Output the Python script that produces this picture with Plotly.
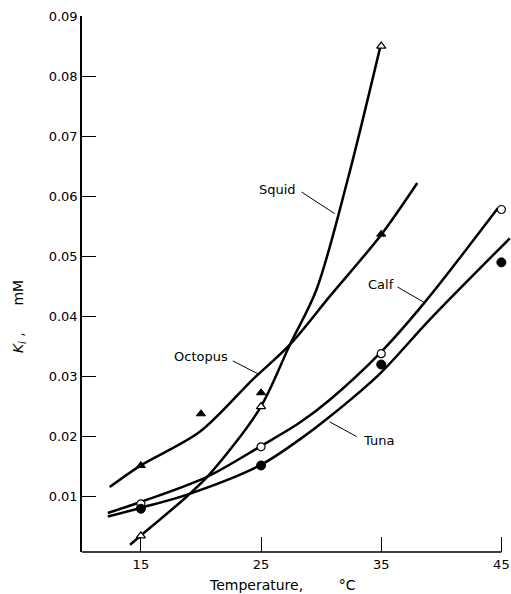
import plotly.graph_objects as go

# Measured data points
squid_x = [15, 25, 35]
squid_y = [0.0035, 0.025, 0.085]
octopus_x = [15, 20, 25, 35]
octopus_y = [0.0152, 0.0238, 0.0273, 0.0537]
calf_x = [15, 25, 35, 45]
calf_y = [0.0088, 0.0183, 0.0338, 0.0578]
tuna_x = [15, 25, 35, 45]
tuna_y = [0.008, 0.0152, 0.032, 0.049]

# Fitted curves
squid_cx = [14.1, 15.1, 18.8, 20.75, 24.9, 27.4, 29.6, 32.2, 34.9]
squid_cy = [0.002, 0.0037, 0.01, 0.0138, 0.0247, 0.0353, 0.0444, 0.0627, 0.0847]
octopus_cx = [12.4, 14.9, 19.9, 24.3, 27.4, 30.7, 35, 38.0]
octopus_cy = [0.0116, 0.0151, 0.0208, 0.0295, 0.0353, 0.0433, 0.0536, 0.0622]
calf_cx = [12.25, 15.1, 20.5, 25.05, 28.2, 30.7, 34.9, 38.6, 44.7]
calf_cy = [0.0073, 0.0092, 0.0133, 0.0185, 0.0223, 0.0261, 0.0339, 0.0423, 0.058]
tuna_cx = [12.25, 15.1, 18.8, 24.9, 28.2, 30.7, 34.9, 39.0, 45.7]
tuna_cy = [0.0067, 0.0082, 0.0103, 0.0152, 0.0195, 0.0233, 0.0305, 0.0394, 0.053]

x_ticks = [15, 25, 35, 45]
x_labels = ["15", "25", "35", "45"]
y_ticks = [0.01, 0.02, 0.03, 0.04, 0.05, 0.06, 0.07, 0.08, 0.09]
y_labels = ["0.01", "0.02", "0.03", "0.04", "0.05", "0.06", "0.07", "0.08", "0.09"]

FONT = "DejaVu Sans"
fig = go.Figure()

for cx, cy in [(squid_cx, squid_cy), (octopus_cx, octopus_cy), (calf_cx, calf_cy), (tuna_cx, tuna_cy)]:
    fig.add_trace(go.Scatter(x=cx, y=cy, mode="lines", line=dict(color="black", width=2.5, shape="spline", smoothing=0.9),
                             showlegend=False, hoverinfo="skip", cliponaxis=False))

fig.add_trace(go.Scatter(x=squid_x, y=squid_y, mode="markers",
                         marker=dict(symbol="triangle-up", size=8, color="white", line=dict(color="black", width=1.2)),
                         showlegend=False))
fig.add_trace(go.Scatter(x=octopus_x, y=octopus_y, mode="markers",
                         marker=dict(symbol="triangle-up", size=8, color="black", line=dict(color="black", width=1)),
                         showlegend=False))
fig.add_trace(go.Scatter(x=calf_x, y=calf_y, mode="markers",
                         marker=dict(symbol="circle", size=8, color="white", line=dict(color="black", width=1.2)),
                         showlegend=False, cliponaxis=False))
fig.add_trace(go.Scatter(x=tuna_x, y=tuna_y, mode="markers",
                         marker=dict(symbol="circle", size=9, color="black", line=dict(color="black", width=1)),
                         showlegend=False, cliponaxis=False))

# curve labels with leader lines
labels = [
    ("Squid", 28.05, 0.0611, "right", (28.38, 0.0607, 31.13, 0.0571)),
    ("Octopus", 22.4, 0.0333, "right", (22.65, 0.0326, 24.89, 0.0303)),
    ("Calf", 36.2, 0.0453, "right", (36.36, 0.0449, 38.52, 0.0424)),
    ("Tuna", 33.29, 0.0193, "left", (30.71, 0.02246, 32.96, 0.0200)),
]
for text, tx, ty, anc, (x0, y0, x1, y1) in labels:
    fig.add_annotation(x=tx, y=ty, xref="x", yref="y", text=text, showarrow=False,
                       xanchor=anc, yanchor="middle", font=dict(family=FONT, size=13, color="black"))
    fig.add_shape(type="line", xref="x", yref="y", x0=x0, y0=y0, x1=x1, y1=y1,
                  line=dict(color="black", width=1))

# x axis line up to 45
fig.add_shape(type="line", xref="x", yref="paper", x0=10.1, x1=45, y0=0, y1=0,
              line=dict(color="black", width=1.5))

fig.add_annotation(x=0.468, y=-0.062, xref="paper", yref="paper",
                   text="Temperature,        °C", showarrow=False, xanchor="center", yanchor="middle",
                   font=dict(family=FONT, size=14, color="black"))
fig.add_annotation(x=-0.147, y=0.44, xref="paper", yref="paper",
                   text="<i>K</i><sub><i>i</i></sub> ,      mM", showarrow=False, textangle=-90,
                   xanchor="center", yanchor="middle",
                   font=dict(family=FONT, size=14, color="black"))

fig.update_xaxes(range=[10.1, 45.8], tickvals=x_ticks, ticktext=x_labels, ticks="inside", ticklen=15,
                 tickwidth=1, tickcolor="black", showgrid=False, zeroline=False, showline=False,
                 automargin=False, ticklabelstandoff=3, tickfont=dict(family=FONT, size=13, color="black"))
fig.update_yaxes(range=[0.0008, 0.09], tickvals=y_ticks, ticktext=y_labels, ticks="inside", ticklen=14,
                 tickwidth=1, tickcolor="black", showgrid=False, zeroline=False, showline=True,
                 linecolor="black", linewidth=1.5, automargin=False,
                 tickfont=dict(family=FONT, size=13, color="black"))

fig.update_layout(width=511, height=594, margin=dict(l=82, r=0, t=16, b=42),
                  plot_bgcolor="white", paper_bgcolor="white", showlegend=False)

fig.write_html("out.html", config={"displayModeBar": False},
               post_script="document.body.style.margin='0';document.body.style.overflow='hidden';")
